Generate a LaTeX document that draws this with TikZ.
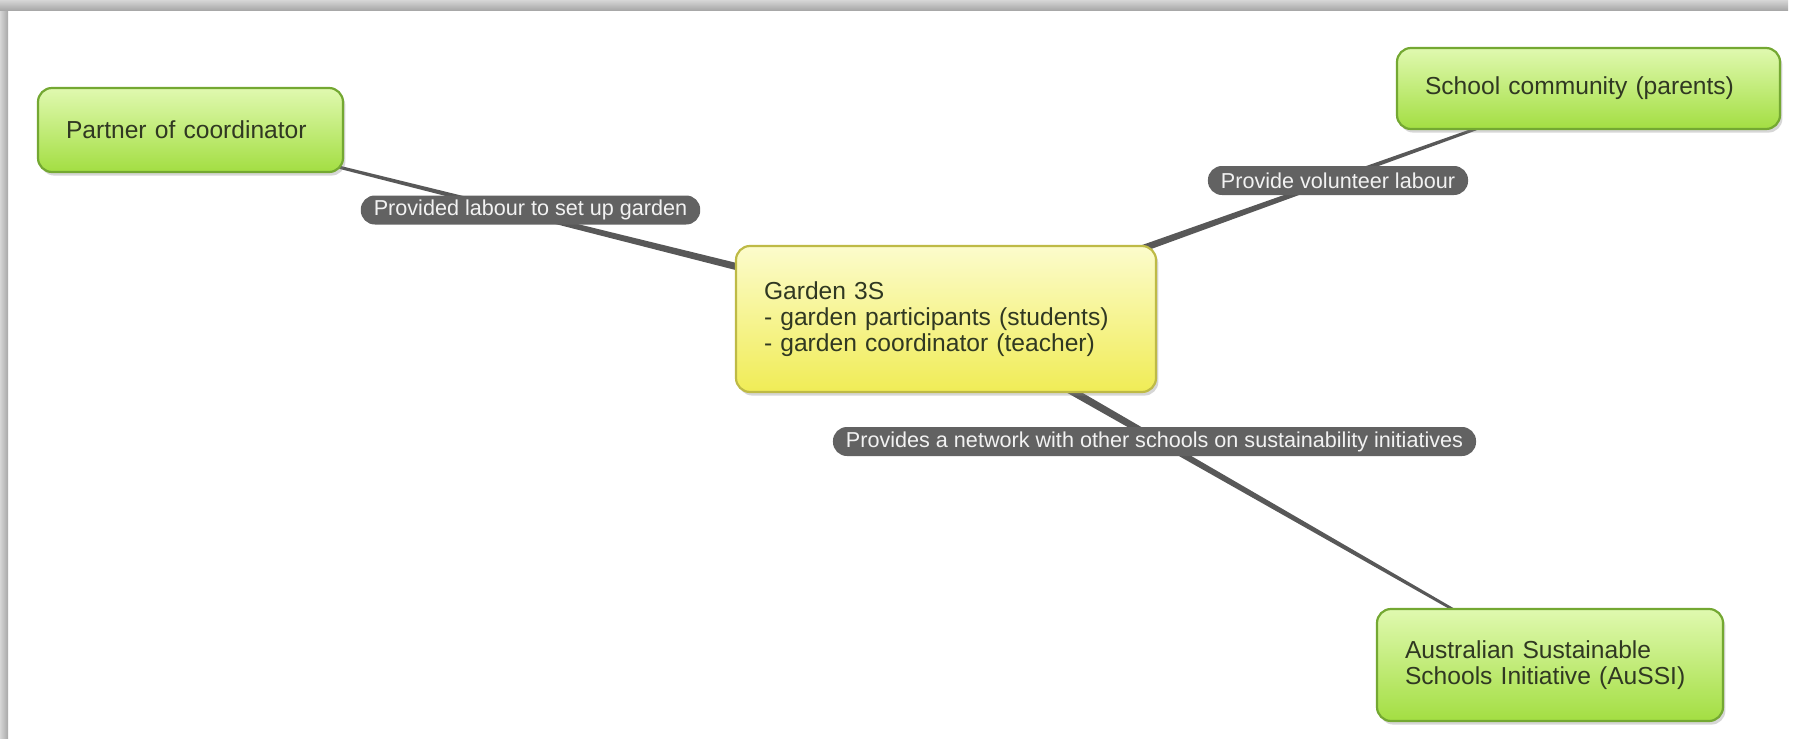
\documentclass[tikz,border=0pt]{standalone}
\usepackage{fontspec}
\setmainfont{Liberation Sans}
\usepackage{tikz}
\usetikzlibrary{calc, shadows, backgrounds, positioning}
\definecolor{mygreen}{RGB}{163,222,66}
\definecolor{mygreentop}{RGB}{224,249,176}
\definecolor{mygreenline}{RGB}{116,168,50}
\definecolor{myyellow}{RGB}{240,236,86}
\definecolor{myyellowtop}{RGB}{252,252,204}
\definecolor{myyellowline}{RGB}{190,186,70}
\definecolor{mytext}{RGB}{48,56,34}
\definecolor{mylink}{RGB}{88,88,88}
\definecolor{mypill}{RGB}{98,98,98}
\definecolor{mypilltext}{RGB}{242,242,242}
\definecolor{myframe}{RGB}{168,168,168}
\definecolor{myframelight}{RGB}{214,214,214}
\tikzset{
  greenblock/.style={rectangle, draw=mygreenline, top color=mygreentop,
    middle color=mygreen!75!mygreentop, bottom color=mygreen,
    align=left, inner xsep=14pt, inner ysep=0pt, text=mytext,
    font=\fontsize{12.3}{12.9}\selectfont, rounded corners=7pt, line width=1.1pt,
    drop shadow={opacity=0.32, shadow xshift=1.2pt, shadow yshift=-1.8pt}},
  yellowblock/.style={greenblock, draw=myyellowline, top color=myyellowtop,
    middle color=myyellow!75!myyellowtop, bottom color=myyellow},
  linklabel/.style={rectangle, fill=mypill, text=mypilltext,
    font=\fontsize{10.8}{12}\selectfont, rounded corners=7pt,
    minimum height=14.5pt, inner xsep=6.5pt, inner ysep=0pt}
}
% tapered connector, thick at the first node
\newcommand{\taperlink}[2]{%
  \fill[mylink] ($(#1.center)!2.3pt!90:(#2.center)$)
    -- ($(#2.center)!0.4pt!-90:(#1.center)$)
    -- ($(#2.center)!0.4pt!90:(#1.center)$)
    -- ($(#1.center)!2.3pt!-90:(#2.center)$) -- cycle;}

\begin{document}
\begin{tikzpicture}[x=0.5pt, y=-0.5pt]
  \useasboundingbox (0,0) rectangle (1795,739);

  % Page shadow
  \fill[left color=myframelight, right color=myframe] (0,0) rectangle (8,739);
  \fill[top color=myframelight, bottom color=myframe] (0,0) rectangle (1788,10);

  % Central topic
  \node[yellowblock, text width=182pt, minimum height=73pt] (garden) at (946,319)
    {Garden 3S\\- garden participants (students)\\- garden coordinator (teacher)};

  % Related groups
  \node[greenblock, text width=124.5pt, minimum height=42pt] (partner) at (190.5,130)
    {Partner of coordinator};
  \node[greenblock, text width=163.5pt, minimum height=40.5pt] (school) at (1588.5,88.5)
    {School community (parents)};
  \node[greenblock, text width=145pt, minimum height=56pt] (aussi) at (1550,665)
    {Australian Sustainable\\Schools Initiative (AuSSI)};

  % Connectors
  \begin{pgfonlayer}{background}
    \taperlink{garden}{partner}
    \taperlink{garden}{school}
    \taperlink{garden}{aussi}
  \end{pgfonlayer}

  % Connector labels
  \node[linklabel] (labour) at (530.5,210) {Provided labour to set up garden};
  \node[linklabel] (volunteer) at (1338,180.5) {Provide volunteer labour};
  \node[linklabel] (network) at (1154.5,441.5)
    {Provides a network with other schools on sustainability initiatives};
\end{tikzpicture}
\end{document}
